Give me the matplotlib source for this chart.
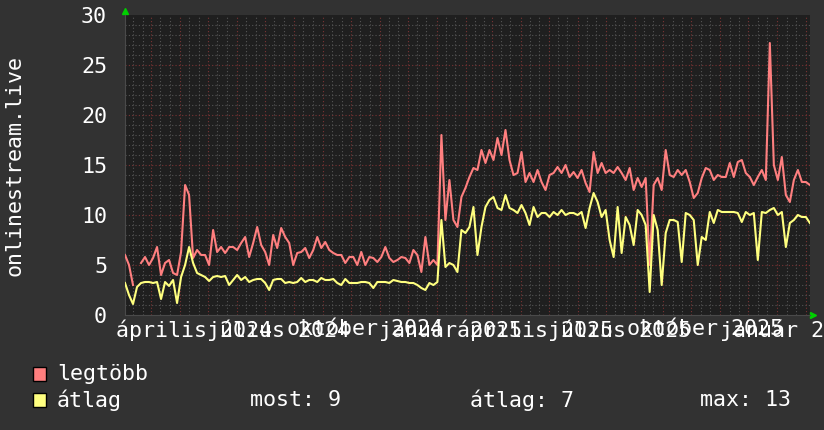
import numpy as np
import pandas as pd
import matplotlib
matplotlib.use('Agg')
import matplotlib.pyplot as plt
from matplotlib.patches import Rectangle

W, H = 824, 430

# idősor: ~4.3 naponként egy minta
start = pd.Timestamp('2024-02-02')
end = pd.Timestamp('2026-02-05')
dates = pd.date_range(start, periods=172, freq='103h')

legtobb = [
    6.0, 5.0, 3.0, np.nan, 5.2, 5.8, 5.0, 5.7, 6.8, 4.0, 5.2, 5.5, 4.2, 4.0, 6.3, 13.0,
    12.0, 5.7, 6.5, 6.0, 6.0, 5.0, 8.5, 6.3, 6.8, 6.2, 6.8, 6.8, 6.5, 7.2, 7.8, 5.8,
    7.2, 8.8, 7.0, 6.3, 5.0, 8.0, 6.7, 8.7, 7.8, 7.2, 5.0, 6.2, 6.3, 6.7, 5.7, 6.5,
    7.8, 6.7, 7.3, 6.5, 6.2, 6.0, 6.0, 5.2, 5.8, 5.8, 5.0, 6.3, 5.0, 5.8, 5.7, 5.3,
    5.8, 6.8, 5.7, 5.3, 5.5, 5.8, 5.7, 5.2, 6.5, 6.0, 4.3, 7.8, 5.0, 5.5, 5.0, 18.0,
    9.5, 13.5, 9.5, 8.8, 11.8, 12.7, 13.8, 14.7, 14.5, 16.5, 15.2, 16.5, 15.5, 17.7, 16.0, 18.5,
    15.5, 14.0, 14.2, 16.3, 13.3, 14.2, 13.3, 14.5, 13.3, 12.5, 14.0, 14.2, 14.8, 14.2, 15.0, 13.8,
    14.3, 13.7, 14.5, 13.2, 12.3, 16.3, 14.2, 15.2, 14.2, 14.5, 14.2, 14.8, 14.2, 13.5, 14.7, 12.5,
    13.7, 12.8, 13.7, 5.0, 13.0, 13.7, 12.5, 16.5, 14.0, 13.8, 14.5, 14.0, 14.5, 13.3, 11.7, 12.2,
    13.7, 14.7, 14.5, 13.5, 14.0, 13.8, 13.8, 15.2, 13.8, 15.3, 15.5, 14.2, 13.8, 13.0, 13.8, 14.5,
    13.5, 27.2, 15.0, 13.5, 15.8, 12.0, 11.3, 13.5, 14.5, 13.3, 13.3, 13.0,
]
atlag = [
    3.2, 2.0, 1.1, 2.8, 3.2, 3.3, 3.3, 3.2, 3.3, 1.6, 3.3, 2.9, 3.5, 1.2, 3.8, 5.0,
    6.8, 5.2, 4.2, 4.0, 3.8, 3.4, 3.8, 3.9, 3.8, 3.9, 3.0, 3.5, 4.0, 3.5, 3.8, 3.3,
    3.5, 3.6, 3.6, 3.2, 2.5, 3.5, 3.6, 3.6, 3.2, 3.3, 3.2, 3.3, 3.7, 3.3, 3.5, 3.5,
    3.3, 3.7, 3.5, 3.5, 3.6, 3.2, 3.0, 3.6, 3.2, 3.2, 3.2, 3.3, 3.3, 3.2, 2.7, 3.3,
    3.3, 3.3, 3.2, 3.5, 3.4, 3.3, 3.3, 3.2, 3.2, 3.0, 2.7, 2.5, 3.2, 3.0, 3.3, 9.5,
    4.8, 5.2, 5.0, 4.3, 8.5, 8.2, 8.8, 10.8, 6.0, 8.8, 10.8, 11.5, 11.8, 10.7, 10.5, 12.0,
    10.7, 10.5, 10.2, 11.0, 10.2, 9.0, 10.8, 9.8, 10.2, 10.2, 9.8, 10.3, 10.0, 10.5, 10.0, 10.2,
    10.2, 10.0, 10.3, 8.7, 10.7, 12.2, 11.3, 9.8, 10.5, 7.5, 5.8, 10.8, 6.2, 9.8, 9.0, 7.0,
    10.5, 10.0, 9.0, 2.3, 10.0, 8.5, 3.0, 8.2, 9.5, 9.5, 9.3, 5.3, 10.2, 10.0, 9.5, 5.0,
    7.8, 7.5, 10.3, 9.2, 10.5, 10.3, 10.3, 10.3, 10.3, 10.2, 9.3, 10.3, 10.0, 10.2, 5.5, 10.3,
    10.2, 10.5, 10.7, 10.0, 10.3, 6.8, 9.2, 9.5, 10.0, 9.8, 9.8, 9.2,
]

cimkek = ['április 2024', 'július 2024', 'október 2024', 'január 2025',
          'április 2025', 'július 2025', 'október 2025', 'január 2026']
cimke_honapok = ['2024-04-01', '2024-07-01', '2024-10-01', '2025-01-01',
                 '2025-04-01', '2025-07-01', '2025-10-01', '2026-01-01']
legenda = ['legtöbb', 'átlag']
osszesito = ['most: 9', 'átlag: 7', 'max: 13']

BG = '#323232'
CANVAS = '#1f1f1f'
PIROS = '#ff7f7f'
SARGA = '#ffff7f'
MINOR = '#555555'
MAJOR = '#7a3434'

plt.rcParams['font.family'] = ['DejaVu Sans Mono']
plt.rcParams['font.size'] = 15.6

fig = plt.figure(figsize=(W / 100, H / 100), dpi=100, facecolor=BG)
ax = fig.add_axes([125 / W, 115 / H, 685 / W, 300 / H])
ax.set_facecolor(CANVAS)

# rács
honapok = pd.date_range('2024-02-01', end, freq='MS')
tizes = []
for h in honapok:
    for d in (10, 20):
        t = h + pd.Timedelta(days=d)
        if start < t < end:
            tizes.append(t)
for t in tizes:
    ax.axvline(t, color=MINOR, lw=0.8, ls=(0, (1, 2)), zorder=1)
for t in honapok:
    if start < t < end:
        ax.axvline(t, color=MAJOR, lw=0.8, ls=(0, (1, 2)), zorder=1)
for v in range(1, 30):
    ax.axhline(v, color=MAJOR if v % 5 == 0 else MINOR, lw=0.8, ls=(0, (1, 2)), zorder=1)

ax.plot(dates, legtobb, color=PIROS, lw=1.5, zorder=3)
ax.plot(dates, atlag, color=SARGA, lw=1.5, zorder=4)

ax.set_xlim(start, end)
ax.set_ylim(0, 30)

ax.set_yticks(range(0, 31, 5))
ax.tick_params(axis='y', length=0, pad=13, colors='white')
cimke_pos = [pd.Timestamp(m) + pd.Timedelta(days=15) for m in cimke_honapok]
ax.set_xticks(cimke_pos)
ax.set_xticklabels(cimkek)
ax.tick_params(axis='x', length=0, pad=3, colors='white')

for s in ('top', 'right'):
    ax.spines[s].set_visible(False)
for s in ('left', 'bottom'):
    ax.spines[s].set_color('#4a4a4a')

# zöld nyilak
ax.plot([0], [1.015], marker='^', color='#00d000', ms=5, transform=ax.transAxes, clip_on=False)
ax.plot([1.004], [0], marker='>', color='#00d000', ms=5, transform=ax.transAxes, clip_on=False)

fig.text(15 / W, 1 - 165 / H, 'onlinestream.live', rotation=90, ha='center', va='center', color='white')

# jelmagyarázat
for i, (nev, szin) in enumerate(zip(legenda, [PIROS, SARGA])):
    yc = 374 + 26 * i
    fig.add_artist(Rectangle((33 / W, 1 - (yc + 7) / H), 13 / W, 14 / H, transform=fig.transFigure,
                             facecolor=szin, edgecolor='black', lw=1))
    fig.text(57 / W, 1 - yc / H, nev, ha='left', va='center', color='white')
for txt, x in zip(osszesito, [250, 470, 700]):
    fig.text(x / W, 1 - 400 / H, txt, ha='left', va='center', color='white')

fig.savefig('out.png', dpi=100, facecolor=BG)
